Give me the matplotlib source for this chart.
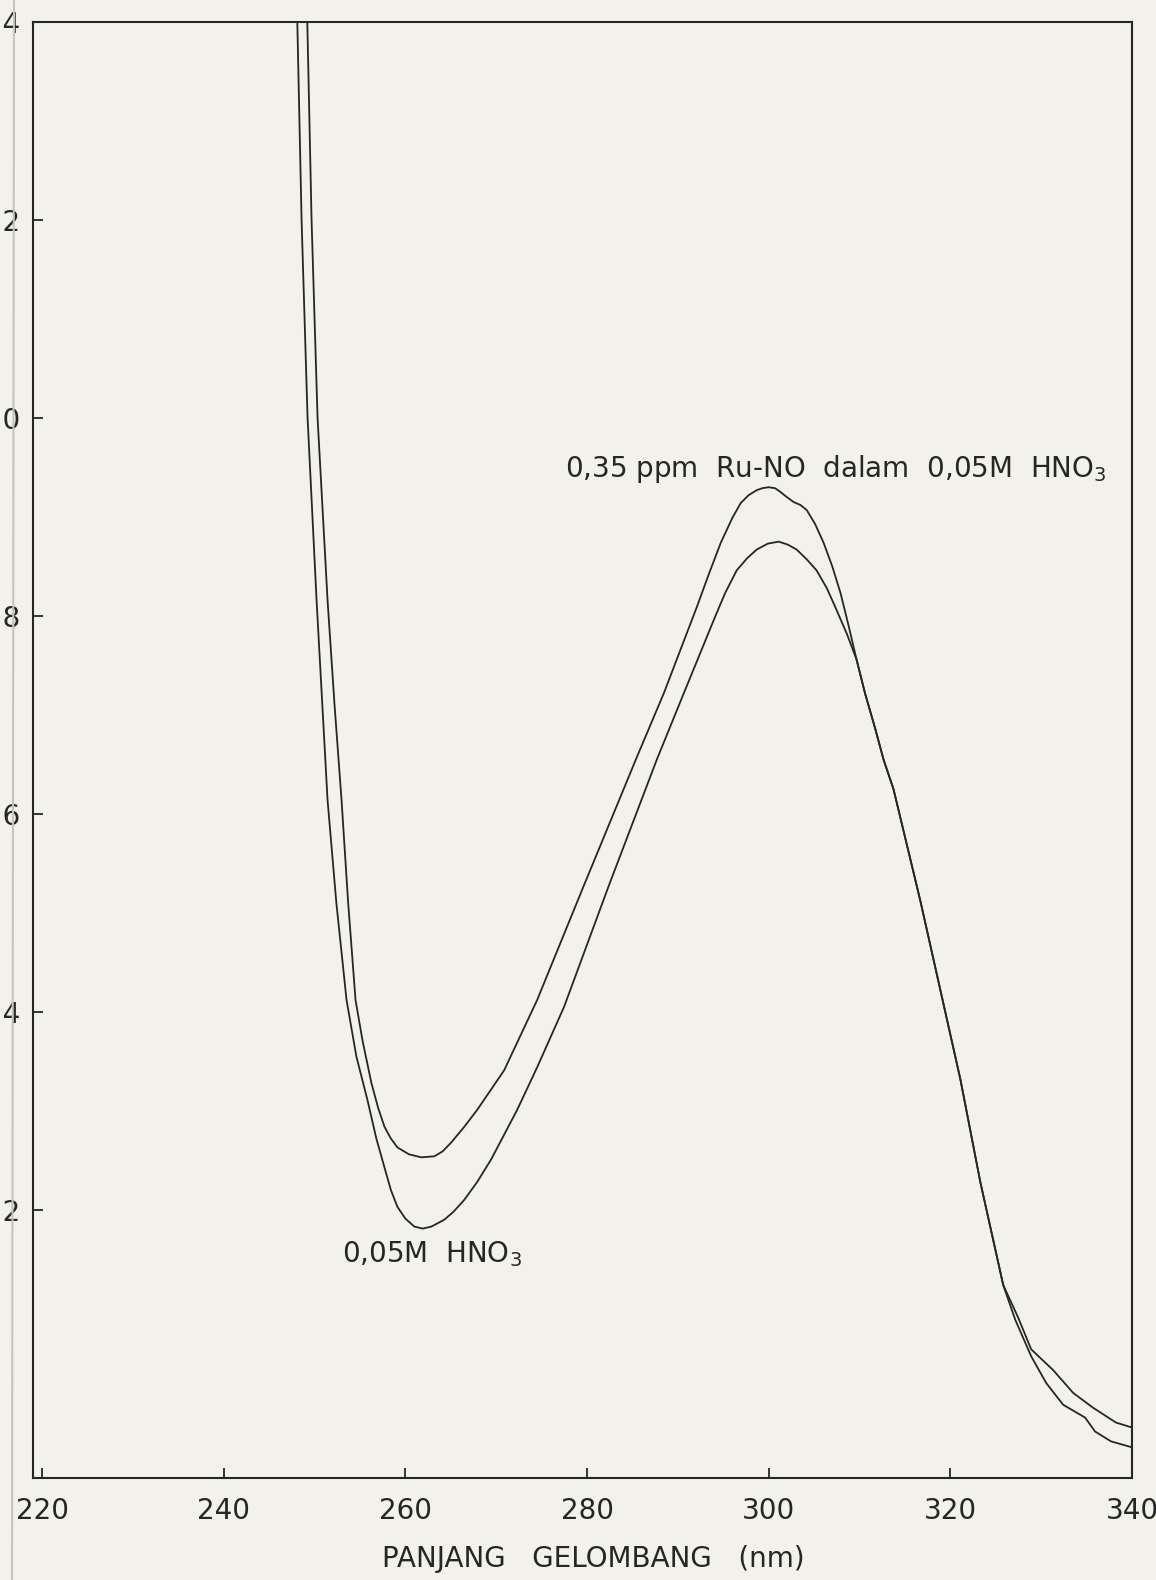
import matplotlib
matplotlib.use('Agg')
import matplotlib.pyplot as plt
from matplotlib.lines import Line2D

# Spektrum serapan: 0,05M HNO3 (blanko) dan 0,35 ppm Ru-NO dalam 0,05M HNO3
wl_hno3 = [248.0, 248.1, 248.57, 249.23, 250.22, 251.43, 252.4, 253.52, 254.6,
           255.82, 256.8, 257.69, 258.4, 259.12, 260.0, 260.99, 261.9, 262.86,
           264.29, 265.3, 266.48, 267.9, 269.45, 272.31, 274.51, 277.47,
           282.42, 287.69, 290.66, 293.96, 295.2, 296.48, 297.6, 298.68, 299.9,
           301.10, 302.1, 303.08, 304.2, 305.27, 306.4, 307.47, 308.6, 309.67,
           310.6, 311.7, 312.64, 313.74, 316.70, 318.90, 321.10, 323.30, 325.82,
           327.14, 328.90, 330.55, 332.42, 334.84, 335.93, 337.69, 340.0]
abs_hno3 = [1.60, 1.40, 1.20, 1.00, 0.816, 0.614, 0.51, 0.412, 0.355,
            0.311, 0.272, 0.243, 0.220, 0.203, 0.191, 0.183, 0.181, 0.183,
            0.190, 0.198, 0.210, 0.228, 0.251, 0.301, 0.344, 0.405,
            0.528, 0.655, 0.722, 0.796, 0.823, 0.846, 0.858, 0.867, 0.873,
            0.875, 0.872, 0.867, 0.857, 0.846, 0.828, 0.806, 0.782, 0.756,
            0.722, 0.687, 0.655, 0.625, 0.512, 0.422, 0.332, 0.228, 0.124,
            0.089, 0.052, 0.025, 0.003, -0.010, -0.024, -0.034, -0.040]

wl_runo = [249.1, 249.2, 249.67, 250.33, 251.43, 252.2, 252.97, 253.7, 254.51,
           255.3, 256.26, 257.0, 257.69, 258.4, 259.12, 260.4, 261.76, 263.19,
           264.1, 265.05, 266.5, 267.91, 270.88, 274.51, 279.67, 285.38,
           288.46, 292.09, 293.4, 294.73, 296.0, 296.92, 297.8, 298.68, 299.3,
           300.0, 300.7, 301.32, 302.0, 302.75, 303.5, 304.18, 305.1, 306.04,
           307.0, 307.91, 308.8, 309.67, 310.6, 311.7, 312.64, 313.74, 316.70,
           318.90, 321.10, 323.30, 325.82, 327.47, 328.90, 331.32, 333.52, 335.71,
           338.24, 340.0]
abs_runo = [1.60, 1.40, 1.20, 1.00, 0.816, 0.71, 0.614, 0.51, 0.412,
            0.37, 0.328, 0.303, 0.284, 0.272, 0.263, 0.256, 0.253, 0.254,
            0.259, 0.268, 0.284, 0.301, 0.341, 0.412, 0.528, 0.655,
            0.722, 0.809, 0.842, 0.874, 0.899, 0.914, 0.922, 0.927, 0.929,
            0.930, 0.929, 0.925, 0.920, 0.915, 0.912, 0.907, 0.893, 0.874,
            0.850, 0.823, 0.790, 0.756, 0.722, 0.687, 0.655, 0.625, 0.512,
            0.422, 0.332, 0.228, 0.124, 0.091, 0.059, 0.038, 0.015, 0.000,
            -0.015, -0.020]

xticks = [220, 240, 260, 280, 300, 320, 340]
yticks = [0.2, 0.4, 0.6, 0.8, 1.0, 1.2, 1.4]
ytick_labels = ['0,2', '0,4', '0,6', '0,8', '1,0', '1,2', '1,4']

ink = '#262626'
paper = '#f2f1ea'

fig = plt.figure(figsize=(11.56, 15.8), dpi=100, facecolor=paper)
ax = fig.add_axes([33 / 1156, 1 - 1478 / 1580, (1132 - 33) / 1156, (1478 - 22) / 1580])
ax.set_facecolor(paper)

ax.plot(wl_hno3, abs_hno3, color=ink, lw=1.3, solid_joinstyle='round')
ax.plot(wl_runo, abs_runo, color=ink, lw=1.3, solid_joinstyle='round')

ax.set_xlim(219, 340)
ax.set_ylim(-0.071, 1.4)

ax.set_xticks(xticks)
ax.set_xticklabels([str(t) for t in xticks])
ax.set_yticks(yticks)
ax.set_yticklabels(ytick_labels)
ax.tick_params(direction='in', length=7, width=1.3, colors=ink, labelsize=20)
ax.tick_params(axis='y', pad=9)
ax.tick_params(axis='x', pad=14)
for s in ax.spines.values():
    s.set_color(ink)
    s.set_linewidth(1.5)

ax.set_xlabel('PANJANG   GELOMBANG   (nm)', fontsize=20, color=ink, labelpad=16)
ax.xaxis.set_label_coords(0.51, -0.046)

ax.text(277.6, 0.940, '0,35 ppm  Ru-NO  dalam  0,05M  HNO$_3$', fontsize=20,
        color=ink, va='baseline', ha='left')
ax.text(253.0, 0.147, '0,05M  HNO$_3$', fontsize=20, color=ink,
        va='baseline', ha='left')

# tepi halaman hasil pindai
fig.add_artist(Line2D([14 / 1156, 12 / 1156], [1, 0], transform=fig.transFigure,
                      color='#c4c4bc', lw=1.5))

plt.savefig('out.png', dpi=100, facecolor=paper)
